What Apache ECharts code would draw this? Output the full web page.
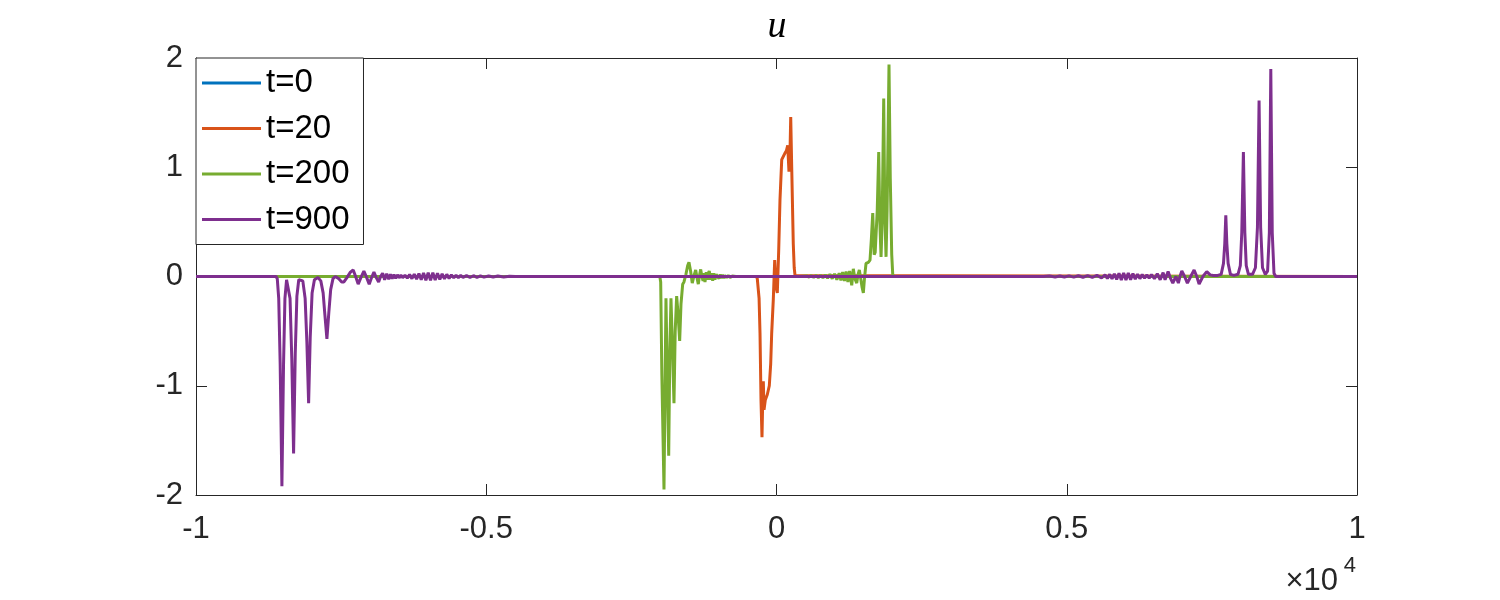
<!DOCTYPE html>
<html>
<head>
<meta charset="utf-8">
<title>u</title>
<script src="https://cdn.jsdelivr.net/npm/echarts@6/dist/echarts.min.js"></script>
<style>
  html, body { margin: 0; padding: 0; background: #fff; }
  #chart { width: 1500px; height: 600px; }
</style>
</head>
<body>
<div id="chart"></div>
<script>
// axis ticks (x in raw units, labels shown as multiples of 10^4)
const xTicks = [-10000, -5000, 0, 5000, 10000];
const xTickLabels = ['-1', '-0.5', '0', '0.5', '1'];
const yTicks = [-2, -1, 0, 1, 2];
const yTickLabels = ['-2', '-1', '0', '1', '2'];

const seriesNames = ['t=0', 't=20', 't=200', 't=900'];
const seriesColors = ['#0072BD', '#D95319', '#77AC30', '#7E2F8E'];

// [x, u]
const t0Points = [[-10000, 0], [10000, 0]];

const t20Points = [
  [-10000, 0], [-345, 0], [-331, -0.02], [-300, -0.2], [-284, -0.52], [-267, -1.13],
  [-250, -1.47], [-236, -1.1], [-227, -0.96], [-215, -1.22], [-193, -1.13], [-158, -1.08],
  [-124, -1.0], [-100, -0.8], [-83, -0.52], [-55, -0.21], [-31, 0.15], [-9, -0.09],
  [14, -0.15], [38, 0.24], [60, 0.7], [90, 1.07], [146, 1.13], [170, 1.15], [193, 1.2],
  [215, 0.96], [235, 1.2], [245, 1.46], [262, 1.0], [289, 0.3], [305, 0.08], [319, 0.01],
  [335, 0], [10000, 0]
];

const t200Points = [
  [-10000, 0], [-2010, 0], [-1995, -0.05], [-1975, -0.9], [-1938, -1.95], [-1918, -0.9],
  [-1904, -0.2], [-1885, -0.8], [-1857, -1.64], [-1838, -0.7], [-1818, -0.2], [-1795, -0.6],
  [-1766, -1.16], [-1745, -0.5], [-1720, -0.18], [-1695, -0.35], [-1668, -0.59], [-1645, -0.25],
  [-1616, -0.07], [-1594, -0.05], [-1560, 0.02], [-1530, 0.1], [-1508, 0.13], [-1480, 0.05],
  [-1451, -0.06], [-1420, 0.01], [-1392, 0.06], [-1370, -0.01], [-1347, -0.07], [-1326, 0.01],
  [-1306, 0.065], [-1285, 0.0], [-1265, -0.04], [-1250, 0.03], [-1232, -0.05], [-1210, 0.04],
  [-1190, -0.03], [-1175, 0.03], [-1158, 0.05], [-1140, -0.03], [-1120, 0.03], [-1099, -0.04],
  [-1080, 0.03], [-1060, -0.03], [-1040, 0.02], [-1008, 0.02], [-990, -0.02], [-970, 0.02],
  [-950, -0.015], [-930, 0.015], [-910, -0.015], [-890, 0.01], [-860, -0.01], [-830, 0.01],
  [-800, -0.01], [-760, 0.005], [-700, 0],
  [400, 0], [520, 0.005], [560, -0.005], [600, 0.008], [640, -0.008], [680, 0.01], [720, -0.01],
  [760, 0.012], [800, -0.012], [840, 0.015], [880, -0.015], [920, 0.02], [960, -0.02],
  [1000, 0.025], [1040, -0.03], [1080, 0.03], [1110, -0.035], [1140, 0.04], [1170, -0.04],
  [1200, 0.045], [1230, -0.05], [1260, 0.05], [1296, -0.08], [1323, 0.07], [1350, -0.02],
  [1382, -0.06], [1405, 0.02], [1427, 0.06], [1451, -0.02], [1475, -0.1], [1496, -0.15],
  [1515, -0.02], [1542, 0.12], [1582, 0.13], [1611, 0.15], [1635, 0.35], [1658, 0.58],
  [1672, 0.35], [1683, 0.2], [1700, 0.22], [1735, 0.6], [1761, 1.14], [1780, 0.5],
  [1801, 0.18], [1820, 0.5], [1847, 1.63], [1865, 0.6], [1887, 0.18], [1905, 0.6],
  [1938, 1.94], [1960, 0.9], [1985, 0.2], [2002, 0.02], [2020, 0], [10000, 0]
];

const t900Points = [
  [-10000, 0], [-8620, 0], [-8600, -0.02], [-8575, -0.2], [-8550, -0.8], [-8520, -1.92],
  [-8492, -0.8], [-8468, -0.2], [-8440, -0.03], [-8410, -0.03], [-8380, -0.2], [-8350, -0.75],
  [-8319, -1.62], [-8290, -0.7], [-8262, -0.18], [-8230, -0.03], [-8200, -0.02], [-8160, -0.04],
  [-8120, -0.2], [-8090, -0.6], [-8060, -1.16], [-8032, -0.55], [-8000, -0.15], [-7960, -0.03],
  [-7900, -0.01], [-7850, -0.04], [-7810, -0.15], [-7780, -0.35], [-7745, -0.57], [-7712, -0.33],
  [-7680, -0.12], [-7640, -0.02], [-7600, 0.0], [-7540, -0.02], [-7490, -0.05], [-7452, -0.05],
  [-7400, -0.01], [-7340, 0.04], [-7292, 0.06], [-7250, 0.0], [-7206, -0.07], [-7160, -0.01],
  [-7108, 0.05], [-7060, -0.01], [-7016, -0.07], [-6975, -0.01], [-6935, 0.04], [-6895, -0.01],
  [-6854, -0.05], [-6820, 0.0], [-6785, 0.03], [-6750, -0.03], [-6715, 0.025], [-6680, -0.025],
  [-6650, 0.02], [-6620, -0.02], [-6590, 0.018], [-6560, -0.018], [-6530, 0.015],
  [-6500, -0.012], [-6470, 0.012], [-6440, -0.01], [-6400, 0.012], [-6360, -0.015], [-6320, 0.018],
  [-6280, -0.02], [-6240, 0.022], [-6200, -0.025], [-6160, 0.028], [-6120, -0.03], [-6080, 0.032],
  [-6040, -0.034], [-6000, 0.035], [-5960, -0.035], [-5920, 0.034], [-5880, -0.032], [-5840, 0.03],
  [-5800, -0.028], [-5760, 0.025], [-5720, -0.022], [-5680, 0.02], [-5640, -0.018], [-5600, 0.015],
  [-5560, -0.012], [-5520, 0.012], [-5480, -0.01], [-5440, 0.01], [-5400, -0.008], [-5340, 0.008],
  [-5280, -0.008], [-5220, 0.007], [-5160, -0.007], [-5100, 0.006], [-5040, -0.006], [-4960, 0.005],
  [-4880, -0.005], [-4800, 0.004], [-4700, -0.004], [-4600, 0.003], [-4500, 0],
  [4600, 0], [4700, 0.004], [4800, -0.004], [4880, 0.005], [4960, -0.005], [5040, 0.006],
  [5120, -0.006], [5200, 0.007], [5280, -0.007], [5360, 0.008], [5440, -0.008], [5520, 0.01],
  [5600, -0.012], [5660, 0.015], [5700, -0.018], [5740, 0.02], [5780, -0.022], [5820, 0.025],
  [5860, -0.028], [5900, 0.03], [5940, -0.032], [5980, 0.033], [6020, -0.033], [6060, 0.032],
  [6100, -0.03], [6140, 0.028], [6180, -0.025], [6220, 0.022], [6260, -0.02], [6300, 0.018],
  [6340, -0.016], [6380, 0.015], [6420, -0.015], [6460, 0.018], [6510, -0.02], [6560, 0.025],
  [6610, -0.03], [6660, 0.035], [6694, -0.03], [6746, 0.045], [6790, -0.02], [6827, -0.06],
  [6880, 0.0], [6923, -0.06], [6950, 0.0], [6982, 0.05], [7030, 0.0], [7078, -0.06],
  [7135, 0.0], [7194, 0.06], [7240, 0.0], [7280, -0.07], [7345, 0.0], [7412, 0.045],
  [7470, 0.015], [7526, 0.01], [7600, 0.01],
  [7660, 0.02], [7700, 0.12], [7722, 0.3], [7740, 0.56], [7758, 0.3], [7780, 0.12], [7820, 0.02],
  [7880, 0.01], [7950, 0.02], [7990, 0.1], [8015, 0.4], [8043, 1.14], [8068, 0.4], [8092, 0.1],
  [8130, 0.02], [8200, 0.02], [8250, 0.08], [8285, 0.45], [8313, 1.61], [8340, 0.45], [8372, 0.08],
  [8420, 0.02], [8460, 0.05], [8490, 0.4], [8515, 1.9], [8540, 0.4], [8570, 0.03], [8600, 0],
  [10000, 0]
];

const seriesPoints = [t0Points, t20Points, t200Points, t900Points];

const axisColor = '#262626';
const labelFont = 'Liberation Sans, Arial, Helvetica, sans-serif';

function boxAxis(pos, min, max, interval, showLabel, labels, ticks, margin) {
  return {
    type: 'value',
    position: pos,
    min: min,
    max: max,
    interval: interval,
    axisLine: { show: true, onZero: false, lineStyle: { color: axisColor, width: 1 } },
    axisTick: { show: true, inside: true, length: 11, lineStyle: { color: axisColor, width: 1 } },
    axisLabel: {
      show: showLabel,
      margin: margin,
      color: axisColor,
      fontSize: 31,
      fontFamily: labelFont,
      showMinLabel: true,
      showMaxLabel: true,
      formatter: function (v) {
        const i = ticks.indexOf(v);
        return i >= 0 ? labels[i] : '';
      }
    },
    splitLine: { show: false }
  };
}

const chart = echarts.init(document.getElementById('chart'), null, { renderer: 'canvas' });
chart.setOption({
  animation: false,
  backgroundColor: '#fff',
  grid: { left: 196, right: 143, top: 58, bottom: 105 },
  xAxis: [
    boxAxis('bottom', -10000, 10000, 5000, true, xTickLabels, xTicks, 19),
    boxAxis('top', -10000, 10000, 5000, false, xTickLabels, xTicks, 19)
  ],
  yAxis: [
    boxAxis('left', -2, 2, 1, true, yTickLabels, yTicks, 13),
    boxAxis('right', -2, 2, 1, false, yTickLabels, yTicks, 13)
  ],
  legend: {
    orient: 'vertical',
    left: 196,
    top: 58,
    icon: 'rect',
    itemWidth: 59,
    itemHeight: 3,
    itemGap: 11.5,
    padding: [8, 14, 8, 6],
    borderColor: axisColor,
    borderWidth: 1,
    backgroundColor: '#fff',
    itemStyle: { borderWidth: 0 },
    textStyle: { fontSize: 33, lineHeight: 34, color: '#000', fontFamily: labelFont },
    data: seriesNames
  },
  graphic: [
    {
      type: 'text', x: 777, y: 27,
      style: { text: 'u', font: 'italic 38px "Liberation Serif", "Times New Roman", serif',
               fill: '#000', textAlign: 'center', textVerticalAlign: 'middle' }
    },
    {
      type: 'text', x: 1338, y: 581,
      style: { text: '×10', font: '31px ' + labelFont, fill: axisColor,
               textAlign: 'right', textVerticalAlign: 'middle' }
    },
    {
      type: 'text', x: 1356, y: 566,
      style: { text: '4', font: '22px ' + labelFont, fill: axisColor,
               textAlign: 'right', textVerticalAlign: 'middle' }
    }
  ],
  series: seriesNames.map(function (name, i) {
    return {
      name: name,
      type: 'line',
      xAxisIndex: 0,
      yAxisIndex: 0,
      symbol: 'none',
      showSymbol: false,
      clip: true,
      color: seriesColors[i],
      lineStyle: { color: seriesColors[i], width: 3 },
      data: seriesPoints[i]
    };
  })
});
</script>
</body>
</html>
